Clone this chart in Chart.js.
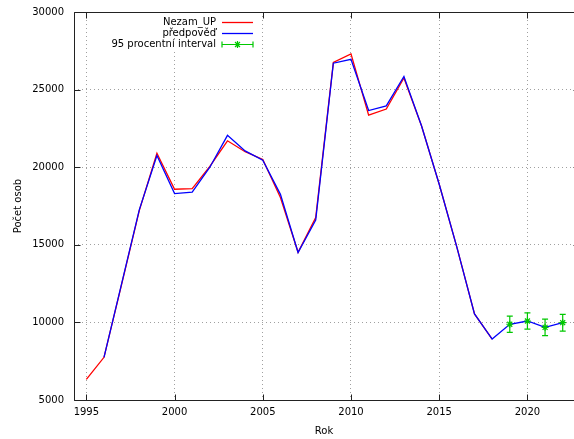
<!DOCTYPE html>
<html>
<head>
<meta charset="utf-8">
<script src="https://cdn.jsdelivr.net/npm/chart.js@4.4.1/dist/chart.umd.min.js"></script>
<style>
  html, body { margin: 0; padding: 0; background: #fff; overflow: hidden; }
  /* the plot box runs a few pixels past the right edge of the window */
  #wrap { width: 580px; height: 439px; }
</style>
</head>
<body>
<div id="wrap"><canvas id="chart"></canvas></div>
<script>
// registered unemployed (Nezam_UP), 1995-2018
const nezamYears = [1995, 1996, 1997, 1998, 1999, 2000, 2001, 2002, 2003, 2004, 2005, 2006,
  2007, 2008, 2009, 2010, 2011, 2012, 2013, 2014, 2015, 2016, 2017, 2018];
const nezamValues = [6330, 7750, 12450, 17200, 20900, 18580, 18620, 20050, 21700, 21000, 20500, 18050,
  14520, 16750, 26750, 27300, 23350, 23750, 25750, 22650, 18900, 14850, 10550, 8930];

// model fit and forecast, 1996-2022
const forecastYears = [1996, 1997, 1998, 1999, 2000, 2001, 2002, 2003, 2004, 2005, 2006, 2007,
  2008, 2009, 2010, 2011, 2012, 2013, 2014, 2015, 2016, 2017, 2018, 2019, 2020, 2021, 2022];
const forecastValues = [7750, 12500, 17250, 20750, 18300, 18400, 20000, 22050, 21050, 20450, 18250, 14500,
  16600, 26700, 26950, 23650, 23950, 25850, 22650, 18900, 14850, 10550, 8930, 9880, 10090, 9680, 9980];

// 95 % interval of the forecast
const intervalYears = [2019, 2020, 2021, 2022];
const intervalMid = [9880, 10090, 9680, 9980];
const intervalLow = [9360, 9570, 9150, 9440];
const intervalHigh = [10400, 10610, 10210, 10520];

const xTicks = [1995, 2000, 2005, 2010, 2015, 2020];
const yTicks = [5000, 10000, 15000, 20000, 25000, 30000];

const RED = '#ff0000';
const BLUE = '#0000ff';
const GREEN = '#00c800';

Chart.defaults.font.family = "'DejaVu Sans', sans-serif";
Chart.defaults.font.size = 10;
Chart.defaults.color = '#000';

const toPoints = (xs, ys) => xs.map((x, i) => ({ x: x, y: ys[i] }));

// fixed box sizes, no extra room for overhanging labels
const fixBox = (s, w, h) => {
  if (w !== null) s.width = w;
  if (h !== null) s.height = h;
  s.paddingTop = s.paddingBottom = s.paddingLeft = s.paddingRight = 0;
};

// gnuplot-style border with inward ticks on all four sides
const framePlugin = {
  id: 'frame',
  afterDatasetsDraw(chart) {
    const { ctx, chartArea: a, scales: { x, y } } = chart;
    const len = 6;
    const l = Math.round(a.left) + 0.5, t = Math.round(a.top) + 0.5;
    const r = Math.round(a.right) - 0.5, b = Math.round(a.bottom) + 0.5;
    ctx.save();
    ctx.strokeStyle = '#222';
    ctx.lineWidth = 1;
    ctx.beginPath();
    ctx.rect(l, t, r - l, b - t);
    xTicks.forEach(v => {
      const px = Math.round(x.getPixelForValue(v)) + 0.5;
      ctx.moveTo(px, b); ctx.lineTo(px, b - len);
      ctx.moveTo(px, t); ctx.lineTo(px, t + len);
    });
    yTicks.forEach(v => {
      const py = Math.round(y.getPixelForValue(v)) + 0.5;
      ctx.moveTo(l, py); ctx.lineTo(l + len, py);
      ctx.moveTo(r, py); ctx.lineTo(r - len, py);
    });
    ctx.stroke();
    ctx.restore();
  }
};

// vertical error bars with caps for the interval
const errorBarPlugin = {
  id: 'errorBars',
  afterDatasetsDraw(chart) {
    const { ctx, scales: { x, y } } = chart;
    ctx.save();
    ctx.strokeStyle = GREEN;
    ctx.lineWidth = 1.2;
    ctx.beginPath();
    intervalYears.forEach((yr, i) => {
      const px = x.getPixelForValue(yr);
      const lo = y.getPixelForValue(intervalLow[i]);
      const hi = y.getPixelForValue(intervalHigh[i]);
      ctx.moveTo(px, lo); ctx.lineTo(px, hi);
      ctx.moveTo(px - 3, lo); ctx.lineTo(px + 3, lo);
      ctx.moveTo(px - 3, hi); ctx.lineTo(px + 3, hi);
    });
    ctx.stroke();
    ctx.restore();
  }
};

// opaque key in the upper left, text right-aligned before the sample
const keyPlugin = {
  id: 'key',
  afterDraw(chart) {
    const ctx = chart.ctx;
    const rows = [
      { text: 'Nezam_UP', color: RED, bars: false },
      { text: 'předpověď', color: BLUE, bars: false },
      { text: '95 procentní interval', color: GREEN, bars: true }
    ];
    const textRight = 216, x0 = 222, x1 = 253, y0 = 22.5, dy = 11;
    ctx.save();
    ctx.fillStyle = '#fff';
    ctx.fillRect(100, 13, 158, 39);
    ctx.font = "10px 'DejaVu Sans', sans-serif";
    ctx.textAlign = 'right';
    ctx.textBaseline = 'middle';
    rows.forEach((r, i) => {
      const yy = y0 + i * dy;
      ctx.fillStyle = '#000';
      ctx.fillText(r.text, textRight, yy);
      ctx.strokeStyle = r.color;
      ctx.lineWidth = r.bars ? 1.2 : 1.3;
      ctx.beginPath();
      ctx.moveTo(x0, yy); ctx.lineTo(x1, yy);
      if (r.bars) {
        ctx.moveTo(x0, yy - 3); ctx.lineTo(x0, yy + 3);
        ctx.moveTo(x1, yy - 3); ctx.lineTo(x1, yy + 3);
      }
      ctx.stroke();
      if (r.bars) {
        Chart.helpers.drawPoint(ctx, { pointStyle: 'star', radius: 3.5, rotation: 0, borderWidth: 1.2 },
          (x0 + x1) / 2, yy);
      }
    });
    ctx.restore();
  }
};

new Chart(document.getElementById('chart'), {
  type: 'scatter',
  data: {
    datasets: [
      {
        label: 'Nezam_UP',
        data: toPoints(nezamYears, nezamValues),
        showLine: true,
        borderColor: RED,
        borderWidth: 1.3,
        pointRadius: 0,
        order: 3
      },
      {
        label: 'předpověď',
        data: toPoints(forecastYears, forecastValues),
        showLine: true,
        borderColor: BLUE,
        borderWidth: 1.3,
        pointRadius: 0,
        order: 2
      },
      {
        label: '95 procentní interval',
        data: toPoints(intervalYears, intervalMid),
        showLine: false,
        pointStyle: 'star',
        pointRadius: 3.5,
        borderColor: GREEN,
        backgroundColor: GREEN,
        pointBorderWidth: 1.2,
        order: 1
      }
    ]
  },
  options: {
    responsive: true,
    maintainAspectRatio: false,
    animation: false,
    events: [],
    layout: { autoPadding: false, padding: { top: 12, right: 0, left: 0, bottom: 0 } },
    plugins: {
      legend: { display: false },
      tooltip: { enabled: false }
    },
    scales: {
      x: {
        type: 'linear',
        min: 1994.3,
        max: 2022.98,
        afterBuildTicks: s => { s.ticks = xTicks.map(v => ({ value: v })); },
        afterFit: s => fixBox(s, null, 39),
        grid: { color: '#a0a0a0', lineWidth: 1, drawTicks: false },
        border: { display: false, dash: [1, 3] },
        ticks: { padding: 6, maxRotation: 0, autoSkip: false, callback: v => String(v) },
        title: { display: false }
      },
      y: {
        min: 5000,
        max: 30000,
        afterBuildTicks: s => { s.ticks = yTicks.map(v => ({ value: v })); },
        afterFit: s => fixBox(s, 74, null),
        grid: { color: '#a0a0a0', lineWidth: 1, drawTicks: false },
        border: { display: false, dash: [1, 3] },
        ticks: { padding: 10, callback: v => String(v) },
        title: { display: true, text: 'Počet osob', padding: { top: 12, bottom: 0 } }
      }
    }
  },
  plugins: [framePlugin, errorBarPlugin, keyPlugin, {
    // axis caption centred under the visible part of the plot
    id: 'xCaption',
    afterDraw(chart) {
      const { ctx, chartArea: a } = chart;
      ctx.save();
      ctx.font = "10px 'DejaVu Sans', sans-serif";
      ctx.fillStyle = '#000';
      ctx.textAlign = 'center';
      ctx.textBaseline = 'middle';
      ctx.fillText('Rok', (a.left + 574) / 2, 431);
      ctx.restore();
    }
  }]
});
</script>
</body>
</html>
